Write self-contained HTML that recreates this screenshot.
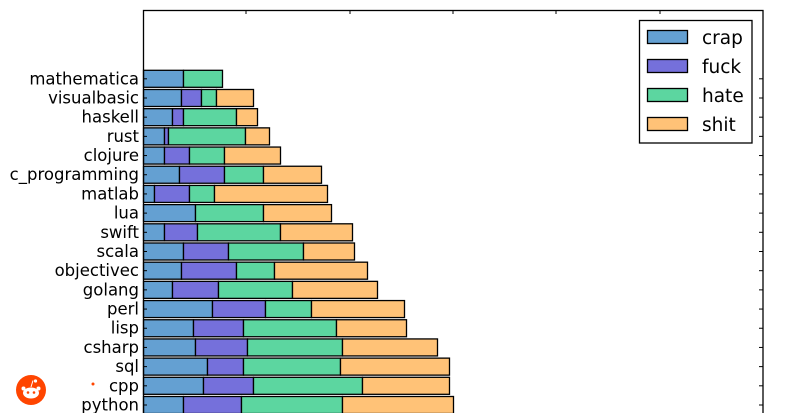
<!DOCTYPE html>
<html><head><meta charset="utf-8"><style>
html,body{margin:0;padding:0;background:#fff;}
svg{display:block;}
text{font-family:"DejaVu Sans","Liberation Sans",sans-serif;}
</style></head><body>
<svg width="788" height="413" viewBox="0 0 788 413" xmlns="http://www.w3.org/2000/svg">
<rect width="788" height="413" fill="#fff"/>
<g id="bars" stroke="#000" stroke-width="1.3"></g>
<g id="labels" font-size="16.5" fill="#000" text-anchor="end"></g>
<g id="ticks" stroke="#000" stroke-width="1"></g>
<rect x="143.5" y="10.5" width="619.5" height="420" fill="none" stroke="#000" stroke-width="1.3"/>
<g stroke="#000" stroke-width="1">
<line x1="246" y1="10" x2="246" y2="14"/><line x1="350" y1="10" x2="350" y2="14"/>
<line x1="453" y1="10" x2="453" y2="14"/><line x1="556" y1="10" x2="556" y2="14"/>
<line x1="660" y1="10" x2="660" y2="14"/>
</g>
<rect x="639.5" y="20.5" width="112.5" height="122.5" fill="#fff" stroke="#000" stroke-width="1.3"/>
<g stroke="#000" stroke-width="1.3">
<rect x="647.5" y="30.5" width="40" height="13" fill="#64a0d2"/>
<rect x="647.5" y="59.5" width="40" height="13" fill="#7570db"/>
<rect x="647.5" y="88.5" width="40" height="13" fill="#5cd6a0"/>
<rect x="647.5" y="117.5" width="40" height="13" fill="#ffc277"/>
</g>
<g font-size="18.5" fill="#000">
<text x="702" y="44">crap</text><text x="702" y="73">fuck</text>
<text x="702" y="102">hate</text><text x="702" y="131">shit</text>
</g>
<circle cx="31" cy="390" r="15" fill="#ff4500"/>
<ellipse cx="31" cy="393" rx="8" ry="5.5" fill="#fff"/>
<circle cx="23.5" cy="388.5" r="2" fill="#fff"/><circle cx="38.5" cy="388.5" r="2" fill="#fff"/>
<circle cx="28" cy="392.5" r="1.3" fill="#ff4500"/><circle cx="34" cy="392.5" r="1.3" fill="#ff4500"/>
<line x1="31" y1="387" x2="33" y2="380.5" stroke="#fff" stroke-width="1"/>
<circle cx="35.5" cy="381" r="1.6" fill="#fff"/>
<circle cx="93" cy="384" r="1.5" fill="#ff4500"/>
<script>
const d=[["mathematica",[183,null,222,null]],["visualbasic",[181,201,216,253]],["haskell",[172,183,236,257]],["rust",[164,168,245,269]],["clojure",[164,189,224,280]],["c_programming",[179,224,263,321]],["matlab",[154,189,214,327]],["lua",[195,null,263,331]],["swift",[164,197,280,352]],["scala",[183,228,303,354]],["objectivec",[181,236,274,367]],["golang",[172,218,292,377]],["perl",[212,265,311,404]],["lisp",[193,243,336,406]],["csharp",[195,247,342,437]],["sql",[207,243,340,449]],["cpp",[203,253,362,449]],["python",[183,241,342,453]]];
const cols=["#64a0d2","#7570db","#5cd6a0","#ffc277"];
const NS="http://www.w3.org/2000/svg";
const B=document.getElementById("bars"),L=document.getElementById("labels"),T=document.getElementById("ticks");
d.forEach((r,i)=>{const cy=78.8+i*(405-78.8)/17;const h=17;let prev=143;
r[1].forEach((v,k)=>{if(v===null)return;const e=document.createElementNS(NS,"rect");e.setAttribute("x",prev+0.5);e.setAttribute("y",cy-h/2);e.setAttribute("width",v-prev);e.setAttribute("height",h);e.setAttribute("fill",cols[k]);B.appendChild(e);prev=v;});
const t=document.createElementNS(NS,"text");t.setAttribute("x",139);t.setAttribute("y",cy+5.5);t.textContent=r[0];L.appendChild(t);
[[143,147],[759,763]].forEach(p=>{const l=document.createElementNS(NS,"line");l.setAttribute("x1",p[0]);l.setAttribute("x2",p[1]);l.setAttribute("y1",cy);l.setAttribute("y2",cy);T.appendChild(l);});});
</script>
</svg>
</body></html>
